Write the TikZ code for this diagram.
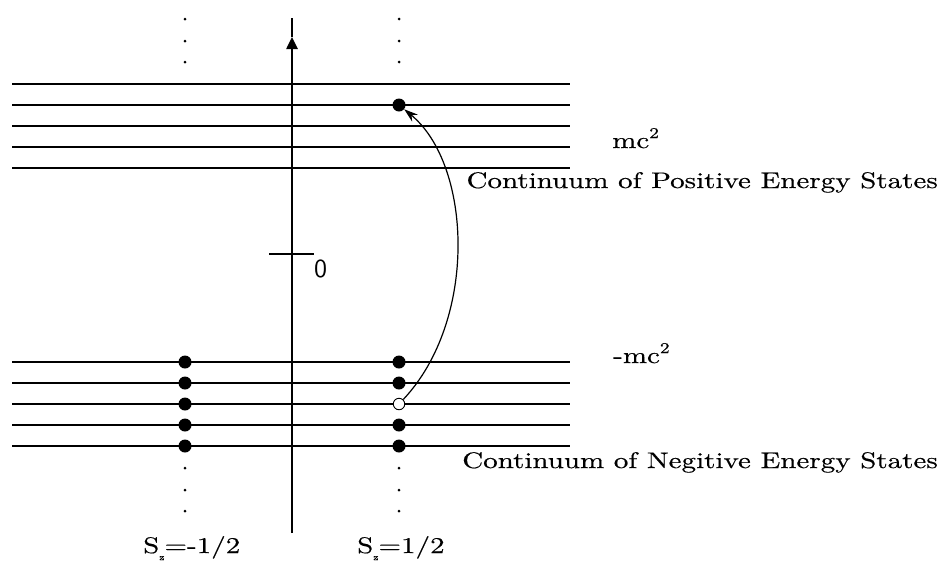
\documentclass[tikz,border=0pt]{standalone}
\usepackage{fontspec}
\setmainfont{lmroman10-regular.otf}[FakeStretch=1.29,FakeBold=0.4]
\newfontfamily\zerofont{lmsans10-regular.otf}
\newcommand{\supsq}{\raisebox{10pt}{\fontsize{15}{15}\selectfont 2}}
\usetikzlibrary{arrows.meta}
\begin{document}
\begin{tikzpicture}[x=1pt,y=-1pt,
  level/.style={line width=2.2pt},
  elec/.style={circle,fill=black,inner sep=0pt,minimum size=13pt},
  holecirc/.style={circle,draw=black,line width=0.9pt,fill=white,inner sep=0pt,minimum size=11.5pt},
  vdot/.style={circle,fill=black,inner sep=0pt,minimum size=3pt},
  lbl/.style={font=\fontsize{22.5}{27}\selectfont,inner sep=0pt}]
\useasboundingbox (0,0) rectangle (941,563);
% energy levels
\foreach \y in {84,105,126,147,168,362,383,404,425,446}
  \draw[level] (12,\y) -- (570,\y);
% axis
\coordinate (axb) at (292,533);
\coordinate (axm) at (292,37);
\coordinate (axt) at (292,18);
\draw[line width=2.5pt,-{Triangle[length=12pt,width=11pt]}] (axb) -- (axm);
\draw[line width=2.5pt] (axm) -- (axt);
% zero tick
\coordinate (tl) at (269,254);
\coordinate (tr) at (314,254);
\draw[line width=2pt] (tl) -- (tr);
\node[inner sep=0pt,anchor=base west,font=\zerofont\fontsize{26}{30}\selectfont] (zero) at (314,277) {0};
% vertical ellipsis dots
\foreach \x in {185,399}
  \foreach \y in {19,41,62,468,490,511}
    \node[vdot] (d\x-\y) at (\x,\y) {};
% electrons
\foreach \y in {362,383,404,425,446}
  \node[elec] (l\y) at (185,\y) {};
\foreach \y in {362,383,425,446}
  \node[elec] (r\y) at (399,\y) {};
\node[holecirc] (hole) at (399,404) {};
\node[elec] (top) at (399,105) {};
% transition
\draw[line width=1.2pt,-{Stealth[length=14pt,width=9pt]}] (hole) .. controls (478,320) and (472,165) .. (top);
% labels
\node[lbl,anchor=base west] (mc) at (612,148) {mc\supsq};
\node[lbl,anchor=base east] (pos) at (938,188) {Continuum of Positive Energy States};
\node[lbl,anchor=base west] (mmc) at (613,363) {-mc\supsq};
\node[lbl,anchor=base east] (neg) at (938,468) {Continuum of Negitive Energy States};
\node[lbl,anchor=base west] (s1) at (143,553) {S\raisebox{-7pt}{\fontsize{9}{9}\selectfont\itshape z}=-1/2};
\node[lbl,anchor=base west] (s2) at (357,553) {S\raisebox{-7pt}{\fontsize{9}{9}\selectfont\itshape z}=1/2};
\end{tikzpicture}
\end{document}
